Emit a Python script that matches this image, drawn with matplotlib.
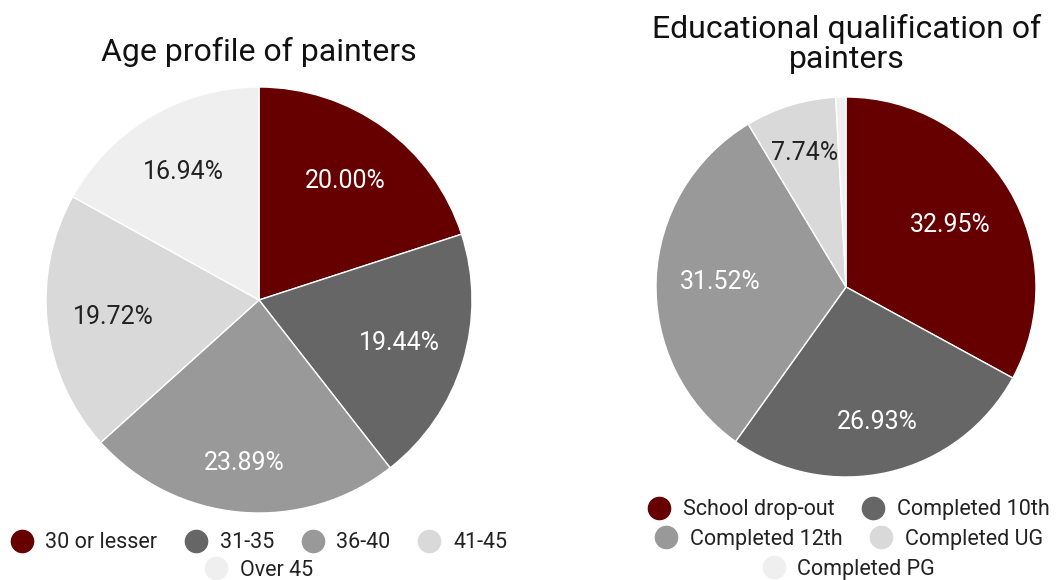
import numpy as np
import matplotlib
matplotlib.use("Agg")
from matplotlib import pyplot as plt
from matplotlib.lines import Line2D

plt.rcParams['font.family'] = ['Roboto', 'DejaVu Sans']

# age profile
age_labels = ['30 or lesser', '31-35', '36-40', '41-45', 'Over 45']
age_values = [20.00, 19.44, 23.89, 19.72, 16.94]

# educational qualification
edu_labels = ['School drop-out', 'Completed 10th', 'Completed 12th',
              'Completed UG', 'Completed PG']
edu_values = [32.95, 26.93, 31.52, 7.74, 0.86]

colors = ['#660000', '#666666', '#999999', '#d9d9d9', '#efefef']
text_colors = ['white', 'white', 'white', '#222222', '#222222']


def draw_pie(ax, values, label_dist, min_pct=1.0):
    wedges, _ = ax.pie(values, colors=colors, startangle=90, counterclock=False,
                       radius=1.0, wedgeprops=dict(edgecolor='white', linewidth=1))
    total = float(sum(values))
    start = 90.0
    for v, w, d, tc in zip(values, wedges, label_dist, text_colors):
        span = 360.0 * v / total
        mid = np.deg2rad(start - span / 2)
        start -= span
        if v / total * 100 < min_pct:
            continue
        ax.text(d * np.cos(mid), d * np.sin(mid), '%.2f%%' % v,
                ha='center', va='center', fontsize=18, color=tc)
    ax.set_xlim(-1, 1)
    ax.set_ylim(-1, 1)
    ax.set_aspect('equal')
    ax.axis('off')


def legend_row(fig, labels, cols, y, x, cs=1.3):
    handles = [Line2D([], [], marker='o', linestyle='none', markersize=16,
                      markerfacecolor=c, markeredgecolor=c) for c in cols]
    leg = fig.legend(handles, labels, loc='center', bbox_to_anchor=(x, y),
                     ncol=len(labels), frameon=False, fontsize=15.5,
                     handletextpad=0.6, columnspacing=cs,
                     handlelength=1.0, borderpad=0)
    for t in leg.get_texts():
        t.set_color('#222222')
    return leg


fig = plt.figure(figsize=(10.58, 5.8), dpi=100)
W, H = 1058.0, 580.0

ax1 = fig.add_axes([46 / W, 67 / H, 426 / W, 426 / H])
draw_pie(ax1, age_values, [0.69, 0.69, 0.77, 0.69, 0.70])

ax2 = fig.add_axes([656 / W, 103 / H, 380 / W, 380 / H])
draw_pie(ax2, edu_values, [0.64, 0.73, 0.66, 0.74, 0.7])

fig.text(259 / W, 1 - 52 / H, 'Age profile of painters', ha='center', va='center',
         fontsize=23, color='#111111')
fig.text(847 / W, 1 - 44 / H, 'Educational qualification of\npainters', ha='center',
         va='center', fontsize=23, color='#111111', linespacing=1.05)

legend_row(fig, age_labels[:4], colors[:4], 1 - 543 / H, 259 / W)
legend_row(fig, age_labels[4:], colors[4:], 1 - 570 / H, 259 / W)
legend_row(fig, edu_labels[:2], colors[:2], 1 - 510 / H, 849 / W)
legend_row(fig, edu_labels[2:4], colors[2:4], 1 - 539 / H, 849 / W)
legend_row(fig, edu_labels[4:], colors[4:], 1 - 569 / H, 849 / W)

fig.savefig('out.png', dpi=100)
